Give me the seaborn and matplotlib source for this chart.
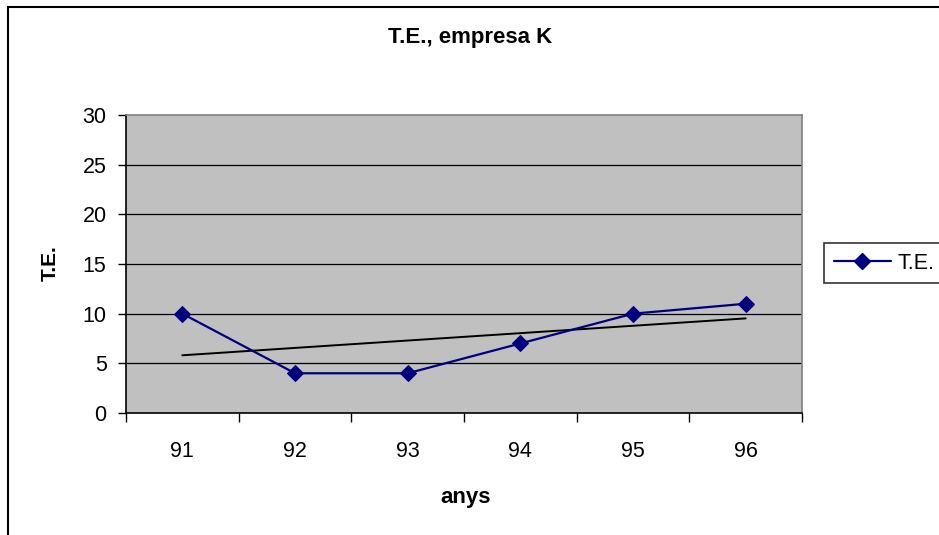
import matplotlib
matplotlib.use("Agg")
import matplotlib.pyplot as plt
import seaborn as sns
import pandas as pd
import numpy as np
from matplotlib.patches import Rectangle
from matplotlib.lines import Line2D

# Data
years = ["91", "92", "93", "94", "95", "96"]
te_values = [10, 4, 4, 7, 10, 11]
y_ticks = [0, 5, 10, 15, 20, 25, 30]

df = pd.DataFrame({"pos": np.arange(len(years)), "anys": years, "T.E.": te_values})

sns.set_theme(style="white")
plt.rcParams["font.family"] = ["Liberation Sans", "DejaVu Sans"]
plt.rcParams.update({"text.color": "black", "axes.labelcolor": "black",
                     "xtick.color": "black", "ytick.color": "black"})

W, H = 939, 535
fig = plt.figure(figsize=(W / 100, H / 100), dpi=100)
ax = fig.add_axes([126 / W, 1 - 413 / H, (802 - 126) / W, (413 - 115) / H])
ax.set_facecolor("#C0C0C0")

# Horizontal gridlines
for v in y_ticks[1:-1]:
    ax.axhline(v, color="black", lw=0.9, zorder=1)

# Series with diamond markers
navy = "#000080"
sns.lineplot(data=df, x="pos", y="T.E.", ax=ax, color=navy, lw=1.6,
             marker="D", markersize=8.5, markeredgecolor=navy, zorder=3,
             legend=False)

# Linear trend line
sns.regplot(data=df, x="pos", y="T.E.", ax=ax, scatter=False, ci=None,
            truncate=True, line_kws={"color": "black", "lw": 1.4, "zorder": 2})

ax.set_xlim(-0.5, len(years) - 0.5)
ax.set_ylim(0, 30)
ax.set_yticks(y_ticks)
ax.set_yticklabels([str(t) for t in y_ticks], fontsize=15.5)

# Category boundaries as major ticks, labels at centres as minor ticks
ax.set_xticks(np.arange(-0.5, len(years), 1.0))
ax.set_xticklabels([])
ax.set_xticks(np.arange(len(years)), minor=True)
ax.set_xticklabels(years, minor=True, fontsize=15.5)
ax.tick_params(axis="x", which="major", direction="out", length=6.5, width=1,
               color="black", bottom=True)
ax.tick_params(axis="x", which="minor", length=0, pad=20)
ax.tick_params(axis="y", which="major", direction="out", length=6, width=1,
               color="black", left=True, pad=8)

for side in ["top", "right"]:
    ax.spines[side].set_color("#808080")
    ax.spines[side].set_linewidth(1.2)
for side in ["left", "bottom"]:
    ax.spines[side].set_color("black")
    ax.spines[side].set_linewidth(1.2)

ax.set_xlabel("anys", fontsize=16, fontweight="bold")
ax.xaxis.set_label_coords(466 / W, 1 - 497 / H, transform=fig.transFigure)
ax.xaxis.label.set_va("center")
ax.set_ylabel("T.E.", fontsize=15, fontweight="bold")
ax.yaxis.set_label_coords(50 / W, 1 - 263 / H, transform=fig.transFigure)
ax.yaxis.label.set_va("center")

fig.text(470 / W, 1 - 38 / H, "T.E., empresa K", fontsize=16,
         fontweight="bold", ha="center", va="center")

# Legend, running past the right edge of the figure
handle = Line2D([], [], color=navy, lw=1.6, marker="D", markersize=8.5,
                markeredgecolor=navy)
leg = fig.legend([handle], ["T.E."], loc="upper left",
                 bbox_to_anchor=(824 / W, 1 - 283 / H, 140 / W, 40 / H),
                 mode="expand", frameon=True, fancybox=False, fontsize=15.5,
                 handlelength=2.65, borderpad=0.45, handletextpad=0.33,
                 borderaxespad=0)
leg.get_frame().set_edgecolor("black")
leg.get_frame().set_linewidth(1.2)

# Chart area border
fig.patches.append(Rectangle((8 / W, -0.1), 1.2, 1 - 7 / H + 0.1,
                             transform=fig.transFigure, fill=False,
                             edgecolor="black", lw=1.5, zorder=0))

fig.savefig("out.png", dpi=100)
